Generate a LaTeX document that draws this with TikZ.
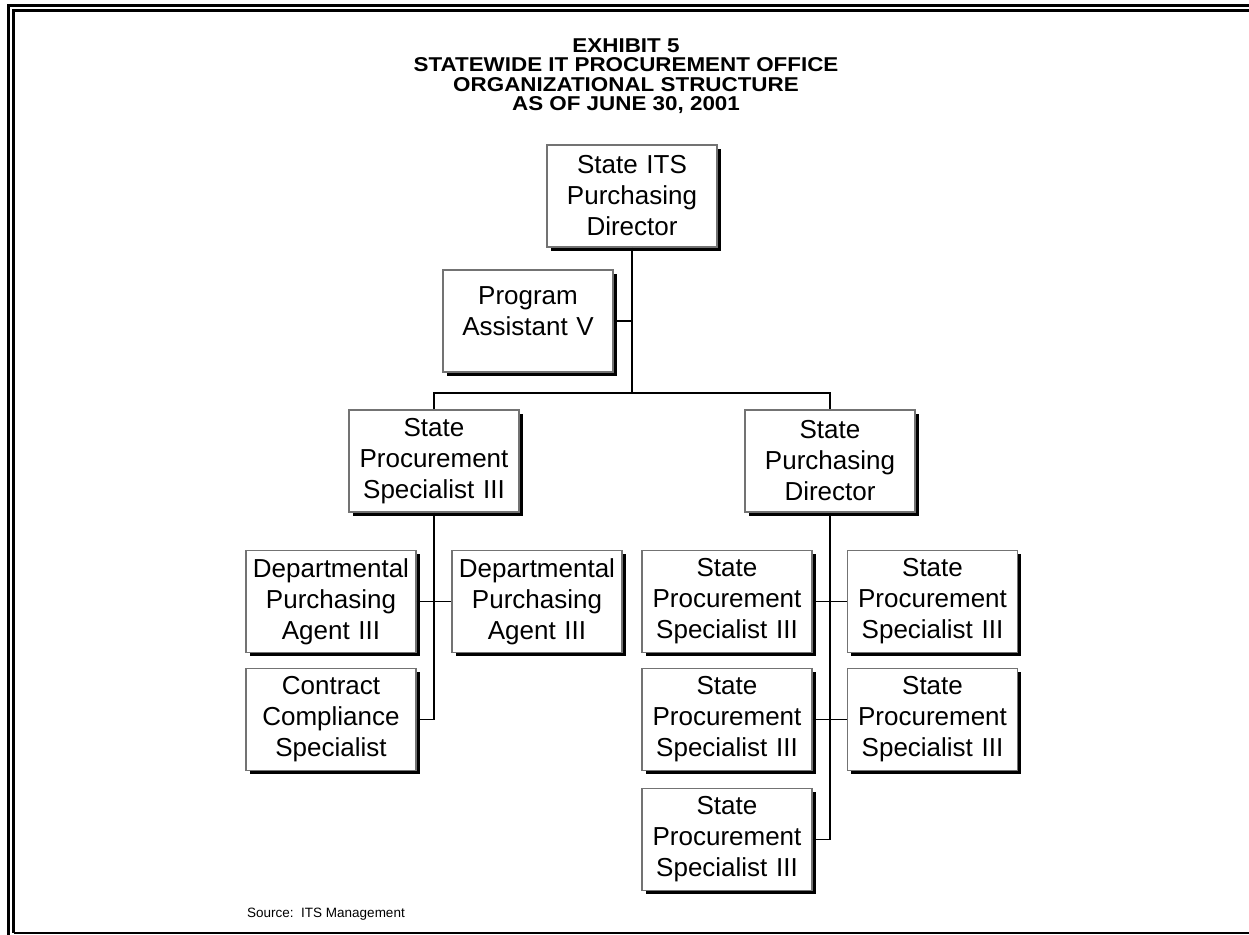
\documentclass[tikz,border=0pt]{standalone}
\usepackage{fontspec}
\setmainfont{Liberation Sans}
\newfontfamily\titlefont[FakeStretch=1.12]{Liberation Sans}
\usetikzlibrary{shadows}
\begin{document}
\begin{tikzpicture}[x=1pt,y=-1pt,
  box/.style={draw=black!55, line width=1.2pt, fill=white,
    minimum width=170pt, minimum height=102pt, text width=168pt,
    align=center, inner sep=0pt,
    font=\fontsize{26}{31}\selectfont,
    drop shadow={shadow xshift=3.5pt, shadow yshift=-3.5pt, fill=black, opacity=1}},
  conn/.style={draw=black, line width=1.4pt},
  frame/.style={draw=black, line width=2.8pt}]
\useasboundingbox (0,0) rectangle (1249,934);
% frame
\draw[frame] (8.7,940) -- (8.7,5.4) -- (1260,5.4);
\draw[frame] (13.8,932.6) -- (13.8,10.9) -- (1260,10.9);
\draw[draw=black, line width=1.8pt] (13.8,932.6) -- (1260,932.6);
% title
\node[font=\titlefont\bfseries\fontsize{20}{19.5}\selectfont, align=center] (title) at (626,76)
  {EXHIBIT 5\\STATEWIDE IT PROCUREMENT OFFICE\\ORGANIZATIONAL STRUCTURE\\AS OF JUNE 30, 2001};
% boxes
\node[box] (top) at (632,196) {State ITS\\Purchasing\\Director};
\node[box] (pa) at (528,321) {Program\\Assistant V\\[-12pt]\mbox{}};
\node[box] (L) at (434,461) {State\\Procurement\\Specialist III};
\node[box] (R) at (830,461) {State\\Purchasing\\Director};
\node[box] (d1) at (331,601.5) {Departmental\\Purchasing\\Agent III};
\node[box] (d2) at (537,601.5) {Departmental\\Purchasing\\Agent III};
\node[box] (cc) at (331,719.5) {Contract\\Compliance\\Specialist};
\node[box] (s1) at (727,601.5) {State\\Procurement\\Specialist III};
\node[box] (s2) at (932.5,601.5) {State\\Procurement\\Specialist III};
\node[box] (s3) at (727,719.5) {State\\Procurement\\Specialist III};
\node[box] (s4) at (932.5,719.5) {State\\Procurement\\Specialist III};
\node[box] (s5) at (727,839.5) {State\\Procurement\\Specialist III};
% connectors
\coordinate (hub) at (632,393);
\draw[conn] (top.south) -- (hub);
\draw[conn] (pa.east) -- (pa.east -| top.south);
\draw[conn] (L.north) -- (L.north |- hub) -- (R.north |- hub) -- (R.north);
\draw[conn] (L.south) -- (L.south |- cc.east);
\draw[conn] (d1.east) -- (d2.west);
\draw[conn] (cc.east) -- (cc.east -| L.south);
\draw[conn] (R.south) -- (R.south |- s5.east);
\draw[conn] (s1.east) -- (s2.west);
\draw[conn] (s3.east) -- (s4.west);
\draw[conn] (s5.east) -- (s5.east -| R.south);
% source
\node[anchor=base west, font=\fontsize{13.5}{16}\selectfont, inner sep=0pt] (src) at (247,917) {Source:\ \ ITS Management};
\end{tikzpicture}
\end{document}
